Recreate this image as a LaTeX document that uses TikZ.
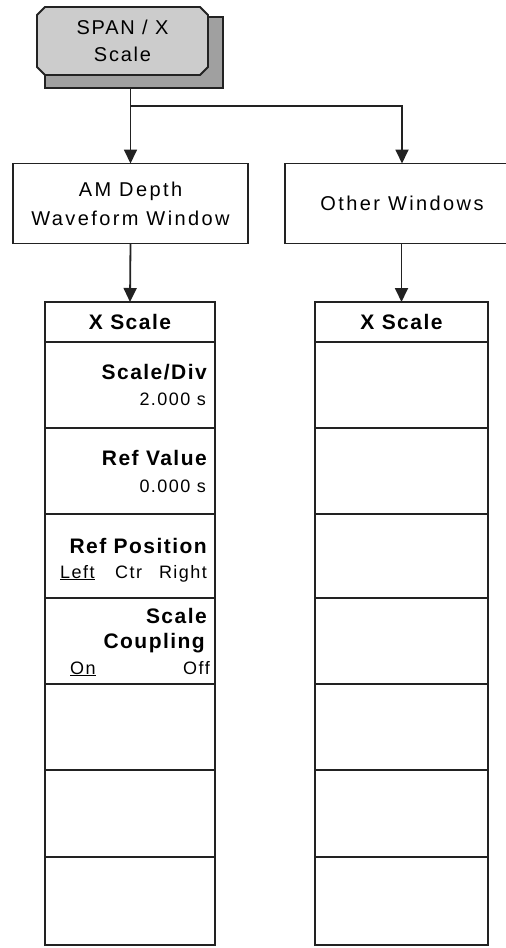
\documentclass[tikz,border=0pt]{standalone}
\usepackage{fontspec}
\setmainfont{Liberation Sans}
\newfontfamily\boxfont[LetterSpace=12]{Liberation Sans}
\newfontfamily\btnfont[LetterSpace=9]{Liberation Sans}
\newfontfamily\menufont[LetterSpace=8]{Liberation Sans}
\newfontfamily\menubold[LetterSpace=7]{Liberation Sans Bold}
\usetikzlibrary{arrows.meta,shapes.misc}
\definecolor{facegray}{RGB}{204,204,204}
\definecolor{shadegray}{RGB}{160,160,160}
\definecolor{inkgray}{RGB}{34,34,34}
\tikzset{
  boxnode/.style={draw=inkgray, line width=1.8pt, inner sep=0pt, outer sep=0pt, align=center,
    font=\boxfont\fontsize{20}{29}\selectfont},
  menurow/.style={draw=inkgray, line width=1.8pt, inner sep=0pt, outer sep=0pt},
  boldlabel/.style={inner sep=0pt, font=\menubold\fontsize{21}{24}\selectfont},
  vallabel/.style={inner sep=0pt, font=\menufont\fontsize{18}{20}\selectfont},
  flow/.style={draw=inkgray, line width=1.8pt, -{Triangle[width=13pt,length=14pt]}},
  btnshape/.style={chamfered rectangle, chamfered rectangle xsep=4pt, chamfered rectangle ysep=4pt,
    draw=inkgray, line width=1.8pt, inner sep=0pt, outer sep=0pt},
}
\begin{document}
\begin{tikzpicture}[x=1pt,y=-1pt]
\useasboundingbox (0,0) rectangle (506,948);

% top button
\node[btnshape, fill=shadegray, minimum width=178pt, minimum height=71pt] (btnsh) at (134,52.5) {};
\node[btnshape, fill=facegray, minimum width=171pt, minimum height=68pt, align=center,
  font=\btnfont\fontsize{20}{27}\selectfont] (btn) at (122.5,41) {SPAN / X\\Scale};

% second level boxes
\node[boxnode, minimum width=235pt, minimum height=80pt] (am) at (130.5,203.5) {AM Depth\\Waveform Window};
\begin{scope}
\clip (0,0) rectangle (506,948);
\node[boxnode, minimum width=234pt, minimum height=80pt] (other) at (402,203.5) {Other Windows};
\end{scope}

% menu columns
\foreach \n/\c/\h in {0/322/40, 1/385/86, 2/471/86, 3/556/84, 4/641/86, 5/727/86, 6/813.5/87, 7/901/88}{
  \node[menurow, minimum width=170pt, minimum height=\h pt] (L\n) at (130,\c) {};
  \node[menurow, minimum width=173pt, minimum height=\h pt] (R\n) at (401.5,\c) {};
}

% connectors
\coordinate (split) at (130,106);
\draw[flow] (btnsh.south -| am.north) -- (am.north);
\draw[flow] (split) -| (other.north);
\draw[flow] (am.south) -- (L0.north);
\draw[flow] (other.south -| R0.north) -- (R0.north);

% menu labels
\node[boldlabel] (lhead) at (L0) {X Scale};
\node[boldlabel] (rhead) at (R0) {X Scale};

\node[boldlabel, anchor=base east] (sdiv) at (207,379) {Scale/Div};
\node[vallabel, anchor=base east] (sdivv) at (206,405) {2.000 s};

\node[boldlabel, anchor=base east] (rval) at (207,465) {Ref Value};
\node[vallabel, anchor=base east] (rvalv) at (206,492) {0.000 s};

\node[boldlabel, anchor=base east] (rpos) at (207,553) {Ref Position};
\node[vallabel, anchor=base west] (rposl) at (60,578) {\underline{Left}};
\node[vallabel, anchor=base west] (rposc) at (115,578) {Ctr};
\node[vallabel, anchor=base east] (rposr) at (207,578) {Right};

\node[boldlabel, anchor=base east] (scpa) at (207,623) {Scale};
\node[boldlabel, anchor=base east] (scpb) at (205,648) {Coupling};
\node[vallabel, anchor=base west] (scpon) at (70,674) {\underline{On}};
\node[vallabel, anchor=base east] (scpoff) at (210,674) {Off};
\end{tikzpicture}
\end{document}
